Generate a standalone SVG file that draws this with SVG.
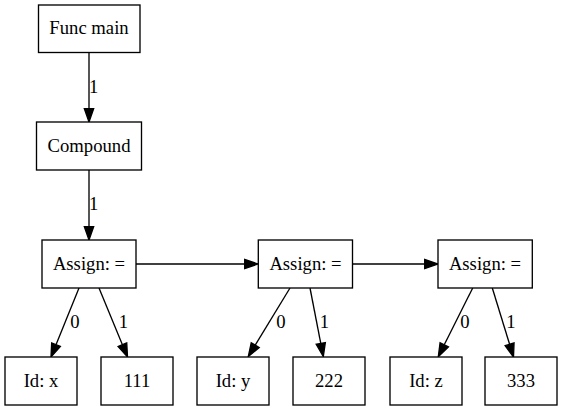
<svg xmlns="http://www.w3.org/2000/svg" width="563" height="411" viewBox="0 0 563 411">
<style>
.n rect{fill:#fff;stroke:#000;stroke-width:1.33}
.e line{stroke:#000;stroke-width:1.33}
.e polygon{fill:#000;stroke:#000;stroke-width:1.33}
</style>
<rect width="563" height="411" fill="#fff"/>
<g class="e" id="edges" font-family="Liberation Serif, serif" font-size="18.67" text-anchor="middle" fill="#000">
<line x1="89" y1="52.5" x2="89" y2="108.7"/><polygon points="84.33,108.7 93.67,108.7 89,122"/><text x="93.7" y="92.5">1</text>
<line x1="89" y1="170" x2="89" y2="226.7"/><polygon points="84.33,226.7 93.67,226.7 89,240"/><text x="93.7" y="210">1</text>
<line x1="136" y1="264" x2="244.7" y2="264"/><polygon points="244.7,259.33 244.7,268.67 258,264"/>
<line x1="352.5" y1="264" x2="424.7" y2="264"/><polygon points="424.7,259.33 424.7,268.67 438,264"/>
<line x1="79" y1="288" x2="56" y2="344.67"/><polygon points="60.33,346.43 51.67,342.91 51,357"/><text x="75" y="328">0</text>
<line x1="99" y1="288" x2="122.42" y2="344.71"/><polygon points="126.74,342.93 118.1,346.49 127.5,357"/><text x="123.5" y="328">1</text>
<line x1="290" y1="288" x2="255.22" y2="345.14"/><polygon points="259.21,347.57 251.23,342.71 248.3,356.5"/><text x="281" y="328">0</text>
<line x1="310" y1="288" x2="320.77" y2="343.44"/><polygon points="325.35,342.55 316.19,344.33 323.3,356.5"/><text x="324.5" y="328">1</text>
<line x1="472.7" y1="288" x2="444.25" y2="344.81"/><polygon points="448.43,346.9 440.07,342.72 438.3,356.7"/><text x="465" y="328">0</text>
<line x1="492.3" y1="288" x2="509.59" y2="344.29"/><polygon points="514.05,342.92 505.13,345.66 513.5,357"/><text x="511" y="328">1</text>
</g>
<g font-family="Liberation Serif, serif" font-size="18.67" text-anchor="middle" fill="#000">
<g class="n" id="func_main"><rect x="38.5" y="5" width="101.5" height="47.5"/><text x="89" y="34">Func main</text></g>
<g class="n" id="compound"><rect x="36.5" y="122" width="105" height="48"/><text x="89" y="152">Compound</text></g>
<g class="n" id="assign1"><rect x="42" y="240" width="94" height="48"/><text x="89" y="269.5">Assign: =</text></g>
<g class="n" id="assign2"><rect x="258.3" y="240" width="94.2" height="48"/><text x="305.5" y="269.5">Assign: =</text></g>
<g class="n" id="assign3"><rect x="438" y="240" width="94.3" height="48"/><text x="485" y="269.5">Assign: =</text></g>
<g class="n" id="id_x"><rect x="5" y="357" width="72" height="48"/><text x="41" y="386.5">Id: x</text></g>
<g class="n" id="n111"><rect x="101" y="357" width="72" height="48"/><text x="137" y="386.5">111</text></g>
<g class="n" id="id_y"><rect x="197" y="357" width="72" height="48"/><text x="233" y="386.5">Id: y</text></g>
<g class="n" id="n222"><rect x="293" y="357" width="72" height="48"/><text x="329" y="386.5">222</text></g>
<g class="n" id="id_z"><rect x="390" y="357" width="72" height="48"/><text x="426" y="386.5">Id: z</text></g>
<g class="n" id="n333"><rect x="485" y="357" width="72" height="48"/><text x="521" y="386.5">333</text></g>
</g>
</svg>
